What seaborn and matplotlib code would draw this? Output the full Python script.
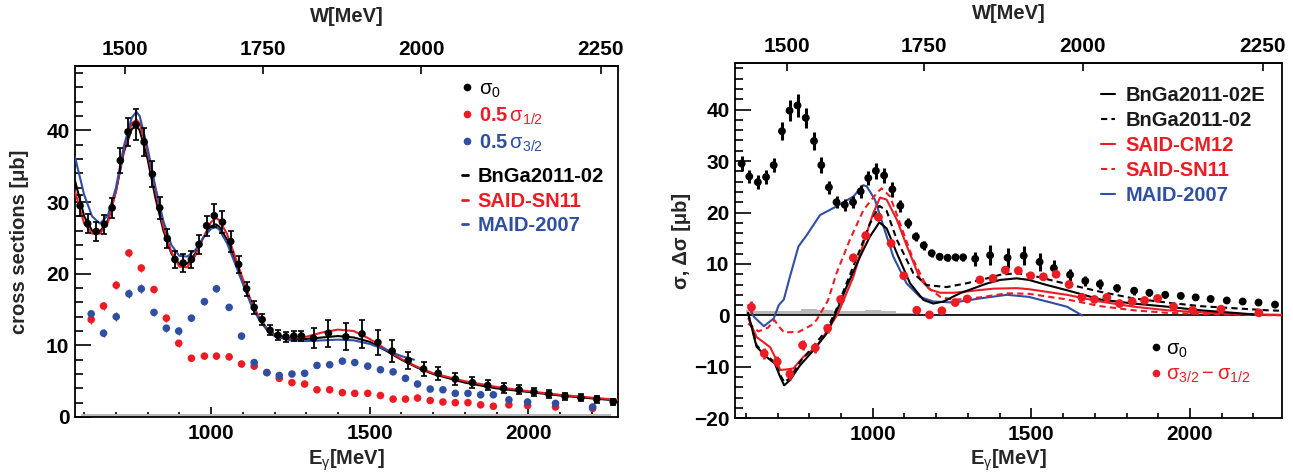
import numpy as np
import matplotlib
matplotlib.use("Agg")
import matplotlib.pyplot as plt
from matplotlib.lines import Line2D
from matplotlib.ticker import MultipleLocator, NullLocator, FixedLocator
import seaborn as sns

# ---------------- data ----------------
# sigma_0 (both panels)
E_sig0 = [587, 611, 638, 664, 688, 714, 738, 763, 789, 815, 838, 862, 886, 912, 938, 962, 986,
          1010, 1036, 1062, 1087, 1112, 1136, 1161, 1186, 1211, 1236, 1261, 1285, 1323, 1370,
          1425, 1476, 1526, 1571, 1622, 1670, 1716, 1770, 1824, 1872, 1922, 1971, 2018, 2065,
          2116, 2166, 2216, 2268]
sig0 = [29.5, 27.0, 25.9, 26.9, 29.2, 35.8, 39.8, 40.8, 38.4, 33.9, 29.2, 24.9, 22.0, 21.5, 22.0,
        24.1, 26.7, 28.1, 27.2, 24.5, 21.3, 17.9, 15.3, 13.6, 12.1, 11.4, 11.2, 11.3, 11.3, 11.0,
        11.7, 11.2, 11.6, 10.4, 9.2, 7.9, 6.7, 6.1, 5.3, 4.8, 4.4, 4.0, 3.8, 3.5, 3.2, 2.9, 2.7,
        2.5, 2.1]
sig0_err = [1.5, 1.3, 1.3, 1.3, 1.4, 1.7, 2.0, 2.2, 2.0, 1.8, 1.5, 1.3, 1.2, 1.2, 1.2, 1.3, 1.4,
            1.6, 1.5, 1.4, 1.2, 1.0, 0.9, 0.8, 0.7, 0.7, 0.7, 0.7, 0.7, 1.4, 1.9, 1.9, 1.9, 1.8,
            1.5, 1.2, 1.0, 0.9, 0.8, 0.8, 0.7, 0.7, 0.6, 0.6, 0.5, 0.5, 0.5, 0.5, 0.4]

# helicity-dependent cross sections
E_hel = [622, 661, 701, 741, 780, 820, 859, 898, 938, 979, 1017, 1057, 1096, 1136, 1176, 1215,
         1255, 1295, 1334, 1374, 1414, 1453, 1494, 1534, 1574, 1613, 1651, 1691, 1731, 1770,
         1810, 1850, 1890, 1939, 1998, 2086, 2203]
half_sig12 = [13.6, 15.5, 18.4, 22.9, 20.8, 17.8, 13.8, 10.3, 8.2, 8.5, 8.5, 8.4, 7.4, 7.1, 6.2,
              5.4, 4.8, 4.6, 3.8, 3.8, 3.4, 3.3, 3.3, 3.0, 2.5, 2.5, 2.65, 2.3, 2.1, 2.0, 2.0,
              1.7, 1.5, 1.7, 1.6, 1.4, 1.2]
half_sig32 = [14.4, 11.7, 14.0, 17.2, 17.9, 14.6, 12.4, 12.0, 13.8, 16.1, 17.9, 15.3, 11.3, 7.6,
              6.2, 5.8, 6.0, 6.1, 7.2, 7.3, 7.8, 7.6, 7.1, 6.6, 6.3, 5.4, 4.6, 3.9, 3.8, 3.3, 3.3,
              3.1, 3.1, 2.4, 2.1, 1.9, 1.4]
hel_err = [0.6, 0.6, 0.6, 0.6, 0.6, 0.5, 0.5, 0.5, 0.4, 0.4, 0.4, 0.4, 0.4, 0.3, 0.3, 0.3, 0.3,
           0.3, 0.3, 0.3, 0.3, 0.3, 0.3, 0.3, 0.3, 0.3, 0.3, 0.3, 0.3, 0.3, 0.3, 0.3, 0.3, 0.3,
           0.3, 0.3, 0.3]
E_delta = [618, 658, 699, 739, 779, 819, 858, 899, 939, 978, 1018, 1058, 1098, 1139, 1179, 1218,
           1260, 1298, 1338, 1379, 1418, 1459, 1498, 1538, 1578, 1619, 1659, 1699, 1738, 1778,
           1818, 1857, 1898, 1948, 2008, 2098, 2217]
delta_sig = [1.6, -7.4, -9.0, -11.4, -5.8, -6.3, -2.5, 3.1, 11.2, 15.5, 19.1, 14.0, 7.7, 1.0, 0.1,
             0.9, 2.5, 3.2, 6.9, 7.2, 8.8, 8.7, 7.7, 7.5, 8.0, 6.0, 3.5, 3.1, 3.5, 2.3, 2.7, 2.9,
             3.3, 1.7, 1.0, 1.2, 0.5]
delta_err = [1.2, 1.1, 1.1, 1.1, 1.0, 1.0, 0.9, 0.8, 0.8, 0.7, 0.7, 0.6, 0.5, 0.5, 0.4, 0.4, 0.4,
             0.4, 0.4, 0.4, 0.4, 0.4, 0.4, 0.4, 0.4, 0.4, 0.3, 0.3, 0.3, 0.3, 0.3, 0.3, 0.3, 0.3,
             0.3, 0.3, 0.3]

# left-panel model curves (sigma_0)
E_modL = [571, 600, 625, 650, 675, 700, 725, 750, 765, 775, 800, 825, 850, 875, 900, 925, 950,
          975, 1000, 1015, 1025, 1050, 1075, 1100, 1125, 1150, 1175, 1200, 1250, 1300, 1350,
          1400, 1450, 1500, 1550, 1600, 1650, 1700, 1800, 1900, 2000, 2100, 2200, 2283]
bnga_L = [33.0, 28.0, 26.0, 25.9, 27.5, 31.5, 37.0, 40.2, 40.6, 40.0, 36.0, 30.5, 26.0, 22.8,
          21.3, 21.4, 22.8, 25.0, 26.6, 26.9, 26.6, 24.8, 22.0, 19.0, 16.2, 14.0, 12.4, 11.5,
          10.9, 10.9, 11.1, 11.3, 11.1, 10.5, 9.3, 8.0, 6.9, 6.0, 4.8, 4.0, 3.5, 3.0, 2.6, 2.3]
said_L = [31.5, 27.0, 25.6, 25.6, 27.2, 31.5, 37.3, 41.0, 41.5, 41.0, 37.0, 31.5, 26.5, 23.0,
          21.0, 20.9, 22.5, 25.0, 27.2, 27.8, 27.5, 25.6, 22.5, 19.3, 16.3, 14.0, 12.3, 11.4,
          11.0, 11.2, 11.8, 12.2, 12.0, 10.9, 9.5, 8.1, 7.0, 6.1, 5.0, 4.2, 3.6, 3.1, 2.7, 2.4]
E_maidL = [571, 600, 625, 650, 675, 700, 725, 750, 765, 775, 800, 825, 850, 875, 900, 925, 950,
           975, 1000, 1015, 1025, 1050, 1075, 1100, 1125, 1150, 1175, 1200, 1250, 1300, 1350,
           1400, 1450, 1500, 1550, 1600, 1640]
maid_L = [36.3, 31.0, 28.0, 27.0, 28.2, 32.0, 37.8, 41.8, 42.6, 42.0, 37.5, 32.0, 27.3, 24.0,
          22.5, 22.4, 23.3, 25.0, 26.3, 26.5, 26.2, 24.3, 21.5, 18.6, 15.8, 13.7, 12.2, 11.3,
          10.7, 10.6, 10.7, 10.8, 10.7, 10.2, 9.4, 8.5, 8.0]

# right-panel model curves (sigma_3/2 - sigma_1/2)
E_bngaE = [607, 634, 666, 692, 708, 721, 739, 771, 813, 855, 881, 918, 960, 991, 1021, 1044,
           1076, 1118, 1160, 1191, 1223, 1275, 1360, 1402, 1454, 1492, 1549, 1612, 1717, 1822,
           1927, 2032, 2137, 2200]
bngaE_R = [0.5, -6.1, -8.1, -9.4, -11.9, -13.6, -12.6, -9.7, -6.8, -3.5, 0.0, 5.6, 11.4, 15.3,
           18.1, 16.9, 12.1, 6.2, 3.0, 2.3, 2.7, 4.3, 6.2, 6.9, 7.2, 6.9, 5.9, 4.9, 3.1, 2.3,
           1.7, 1.0, 0.5, 0.2]
E_bnga = [607, 634, 666, 692, 708, 721, 739, 771, 813, 855, 881, 918, 960, 991, 1021, 1044,
          1076, 1128, 1170, 1233, 1300, 1360, 1402, 1454, 1492, 1612, 1717, 1822, 1927, 2032,
          2137, 2242, 2290]
bnga_R = [0.5, -5.8, -7.8, -9.2, -11.5, -13.0, -12.2, -9.0, -6.0, -2.8, 0.5, 6.3, 12.8, 17.8,
          21.3, 20.3, 14.7, 8.2, 5.9, 5.5, 6.3, 7.2, 7.9, 8.2, 7.9, 6.1, 4.6, 3.3, 2.5, 1.8,
          1.4, 1.0, 0.9]
E_cm12 = [608, 634, 677, 697, 708, 729, 750, 781, 823, 865, 891, 939, 981, 1002, 1023, 1044,
          1076, 1108, 1150, 1181, 1213, 1255, 1318, 1381, 1454, 1492, 1612, 1717, 1822, 1927,
          2032, 2137, 2290]
cm12_R = [-0.6, -4.2, -6.2, -8.7, -10.6, -10.5, -10.3, -8.1, -6.1, -2.2, 0.4, 7.5, 16.0, 19.9,
          22.9, 22.5, 18.6, 13.4, 7.0, 5.0, 4.4, 4.4, 4.8, 5.2, 5.3, 5.1, 4.0, 2.7, 1.7, 1.0,
          0.6, 0.3, 0.1]
E_sn11 = [607, 640, 670, 690, 705, 720, 767, 807, 823, 859, 886, 928, 971, 1013, 1028, 1055,
          1086, 1128, 1170, 1213, 1255, 1338, 1423, 1492, 1612, 1717, 1822, 1927, 2032, 2290]
sn11_R = [-1.6, -3.1, -2.4, -0.9, -2.2, -3.3, -3.2, -1.9, -0.9, 2.9, 8.2, 14.7, 20.5, 23.8,
          24.7, 23.1, 17.9, 10.8, 5.6, 3.6, 3.0, 3.5, 4.3, 4.2, 3.1, 1.8, 1.0, 0.5, 0.3, 0.0]
E_maidR = [608, 626, 657, 688, 704, 720, 739, 766, 792, 834, 886, 939, 970, 981, 1007, 1034,
           1065, 1107, 1149, 1191, 1255, 1338, 1423, 1492, 1549, 1612, 1660]
maid_R = [2.0, -0.3, -2.1, -0.6, 2.0, 3.1, 7.5, 13.4, 15.6, 19.5, 21.2, 23.1, 25.3, 25.1, 22.5,
          17.3, 11.4, 6.2, 3.6, 2.7, 2.5, 3.3, 4.0, 3.6, 2.7, 1.7, 0.0]

# systematic-error bands (grey)
E_sysL = [590, 650, 700, 750, 800, 850, 900, 950, 1000, 1050, 1100, 1150, 1200, 1300, 1400,
          1500, 1600, 1700, 1800, 1900, 2000, 2100, 2200, 2260]
sysL = [0.45, 0.45, 0.45, 0.4, 0.45, 0.4, 0.35, 0.45, 0.4, 0.45, 0.4, 0.35, 0.35, 0.35, 0.35,
        0.4, 0.45, 0.45, 0.45, 0.45, 0.35, 0.45, 0.45, 0.45]
E_sysR = [600, 650, 700, 750, 800, 850, 900, 950, 1000, 1050, 1100, 1200, 1300, 1400, 1500,
          1600, 1700, 1800, 1900, 2000, 2100, 2200, 2280]
sysR = [1.0, 0.9, 0.8, 0.9, 1.2, 1.0, 0.8, 0.9, 1.0, 0.8, 0.45, 0.35, 0.35, 0.35, 0.35, 0.35,
        0.35, 0.35, 0.35, 0.35, 0.35, 0.35, 0.35]

W_ticks = [1500, 1750, 2000, 2250]
E_ticks = [1000, 1500, 2000]
yticks_L = [0, 10, 20, 30, 40]
yticks_R = [-20, -10, 0, 10, 20, 30, 40]

# ---------------- style ----------------
sns.set_theme(style="ticks")
plt.rcParams['font.family'] = ['Liberation Sans', 'DejaVu Sans']
plt.rcParams['font.weight'] = 'bold'
plt.rcParams['mathtext.fontset'] = 'custom'
plt.rcParams['mathtext.rm'] = 'Liberation Sans:weight=normal'
plt.rcParams['mathtext.it'] = 'Liberation Sans:weight=normal'
plt.rcParams['mathtext.bf'] = 'Liberation Sans:bold'
plt.rcParams['axes.linewidth'] = 1.3

RED = '#ed1c24'
BLUE = '#2f4fa2'
GREY = '#b9b9b9'
MP = 938.272
FS_TICK = 15
FS_LAB = 14.5
FS_LEG = 14.5


def e2w(E):
    E = np.asarray(E, dtype=float)
    return np.sqrt(MP**2 + 2 * MP * np.clip(E, 1.0, None))


def w2e(W):
    W = np.asarray(W, dtype=float)
    return (W**2 - MP**2) / (2 * MP)


fig = plt.figure(figsize=(12.93, 4.74), dpi=100)
axL = fig.add_axes([75/1293, (474-417)/474, (618-75)/1293, (417-66)/474])
axR = fig.add_axes([735/1293, (474-418.3)/474, (1282-735)/1293, (418.3-63.3)/474])


def style_axes(ax, xlim, ylim, yticks, ylabel, lab_x, xlab_y):
    ax.set_xlim(*xlim)
    ax.set_ylim(*ylim)
    ax.xaxis.set_major_locator(FixedLocator(E_ticks))
    ax.xaxis.set_minor_locator(MultipleLocator(100))
    ax.yaxis.set_major_locator(FixedLocator(yticks))
    ax.yaxis.set_minor_locator(MultipleLocator(2))
    ax.tick_params(axis='both', which='both', direction='in', top=False, right=False,
                   colors='black', labelsize=FS_TICK, width=1.2)
    ax.tick_params(axis='y', which='major', length=11.5, pad=4)
    ax.tick_params(axis='y', which='minor', length=5.8)
    ax.tick_params(axis='x', which='major', length=7, pad=5)
    ax.tick_params(axis='x', which='minor', length=3.6)
    for sp in ax.spines.values():
        sp.set_visible(True)
        sp.set_color('black')
        sp.set_linewidth(1.3)
    ax.set_ylabel(ylabel, fontsize=FS_LAB, fontweight='bold')
    ax.yaxis.set_label_coords(lab_x, 0.5)
    ax.set_xlabel(r'E$_{\gamma}$[MeV]', fontsize=FS_LAB, fontweight='bold')
    ax.xaxis.set_label_coords(0.5, xlab_y)
    sec = ax.secondary_xaxis('top', functions=(e2w, w2e))
    sec.xaxis.set_major_locator(FixedLocator(W_ticks))
    sec.xaxis.set_minor_locator(NullLocator())
    sec.tick_params(axis='x', direction='in', length=5.8, width=1.2, labelsize=FS_TICK,
                    pad=5, colors='black')
    sec.set_xlabel('W[MeV]', fontsize=FS_LAB, fontweight='bold', labelpad=13)
    for lab in ax.get_xticklabels() + ax.get_yticklabels() + sec.get_xticklabels():
        lab.set_fontweight('bold')
    return sec


# ---------------- left panel ----------------
ax = axL
ax.fill_between(E_sysL, 0, sysL, step='mid', color=GREY, lw=0, zorder=1)
sns.lineplot(x=E_modL, y=bnga_L, ax=ax, color='black', lw=1.5, zorder=3)
sns.lineplot(x=E_modL, y=said_L, ax=ax, color=RED, lw=1.5, zorder=3)
sns.lineplot(x=E_maidL, y=maid_L, ax=ax, color=BLUE, lw=1.5, zorder=3)
ax.errorbar(E_hel, half_sig12, yerr=hel_err, fmt='none', ecolor=RED, elinewidth=1.0, zorder=4)
ax.errorbar(E_hel, half_sig32, yerr=hel_err, fmt='none', ecolor=BLUE, elinewidth=1.0, zorder=4)
sns.scatterplot(x=E_hel, y=half_sig12, ax=ax, color=RED, s=30, edgecolor='none', zorder=5,
                legend=False)
sns.scatterplot(x=E_hel, y=half_sig32, ax=ax, color=BLUE, s=30, edgecolor='none', zorder=5,
                legend=False)
ax.errorbar(E_sig0, sig0, yerr=sig0_err, fmt='none', ecolor='black', elinewidth=1.3,
            capsize=2, capthick=1.2, zorder=6)
sns.scatterplot(x=E_sig0, y=sig0, ax=ax, color='black', s=30, edgecolor='none', zorder=7,
                legend=False)
style_axes(ax, (571, 2283), (0, 49), yticks_L, 'cross sections [μb]', -0.085, -0.086)

h1 = [Line2D([], [], ls='none', marker='o', ms=4.5, color=c) for c in ('black', RED, BLUE)]
l1 = [r'$\sigma_0$', r'0.5$\,\sigma_{1/2}$', r'0.5$\,\sigma_{3/2}$']
leg1 = ax.legend(h1, l1, loc='upper left', bbox_to_anchor=(0.713, 0.962), frameon=False,
                 borderpad=0, borderaxespad=0, handlelength=0.5, handletextpad=0.35,
                 labelspacing=0.28, prop={'size': FS_LEG, 'weight': 'bold'})
for t, c in zip(leg1.get_texts(), ('black', RED, BLUE)):
    t.set_color(c)
ax.add_artist(leg1)
h2 = [Line2D([], [], ls='-', lw=2.0, color=c) for c in ('black', RED, BLUE)]
l2 = ['BnGa2011-02', 'SAID-SN11', 'MAID-2007']
leg2 = ax.legend(h2, l2, loc='upper left', bbox_to_anchor=(0.713, 0.712), frameon=False,
                 borderpad=0, borderaxespad=0, handlelength=0.3, handletextpad=0.45,
                 labelspacing=0.28, prop={'size': FS_LEG, 'weight': 'bold'})
for t, c in zip(leg2.get_texts(), ('black', RED, BLUE)):
    t.set_color(c)

# ---------------- right panel ----------------
ax = axR
ax.fill_between(E_sysR, 0, sysR, step='mid', color=GREY, lw=0, zorder=1)
ax.axhline(0, color='black', lw=1.2, zorder=2)
sns.lineplot(x=E_maidR, y=maid_R, ax=ax, color=BLUE, lw=1.5, zorder=3)
sns.lineplot(x=E_sn11, y=sn11_R, ax=ax, color=RED, lw=1.5, linestyle=(0, (3, 2)), zorder=3)
sns.lineplot(x=E_cm12, y=cm12_R, ax=ax, color=RED, lw=1.5, zorder=3)
sns.lineplot(x=E_bnga, y=bnga_R, ax=ax, color='black', lw=1.5, linestyle=(0, (3, 2)), zorder=3)
sns.lineplot(x=E_bngaE, y=bngaE_R, ax=ax, color='black', lw=1.5, zorder=3)
ax.errorbar(E_sig0, sig0, yerr=sig0_err, fmt='none', ecolor='black', elinewidth=2.2, zorder=6)
sns.scatterplot(x=E_sig0, y=sig0, ax=ax, color='black', s=32, edgecolor='none', zorder=7,
                legend=False)
ax.errorbar(E_delta, delta_sig, yerr=delta_err, fmt='none', ecolor=RED, elinewidth=2.0, zorder=6)
sns.scatterplot(x=E_delta, y=delta_sig, ax=ax, color=RED, s=40, edgecolor='none', zorder=7,
                legend=False)
style_axes(ax, (566, 2290), (-20, 49), yticks_R, 'σ, Δσ [μb]', -0.080, -0.083)

h3 = [Line2D([], [], ls='-', lw=1.5, color='black'),
      Line2D([], [], ls=(0, (3, 2)), lw=1.5, color='black'),
      Line2D([], [], ls='-', lw=1.5, color=RED),
      Line2D([], [], ls=(0, (3, 2)), lw=1.5, color=RED),
      Line2D([], [], ls='-', lw=1.5, color=BLUE)]
l3 = ['BnGa2011-02E', 'BnGa2011-02', 'SAID-CM12', 'SAID-SN11', 'MAID-2007']
c3 = ['#1a1a1a', '#1a1a1a', RED, RED, BLUE]
leg3 = ax.legend(h3, l3, loc='upper left', bbox_to_anchor=(0.670, 0.936), frameon=False,
                 borderpad=0, borderaxespad=0, handlelength=0.66, handletextpad=0.55,
                 labelspacing=0.3, prop={'size': FS_LEG, 'weight': 'bold'})
for t, c in zip(leg3.get_texts(), c3):
    t.set_color(c)
ax.add_artist(leg3)
h4 = [Line2D([], [], ls='none', marker='o', ms=4.5, color=c) for c in ('black', RED)]
l4 = [r'$\sigma_0$', r'$\sigma_{3/2}-\sigma_{1/2}$']
leg4 = ax.legend(h4, l4, loc='upper left', bbox_to_anchor=(0.760, 0.222), frameon=False,
                 borderpad=0, borderaxespad=0, handlelength=0.5, handletextpad=0.27,
                 labelspacing=0.25, prop={'size': FS_LEG, 'weight': 'bold'})
for t, c in zip(leg4.get_texts(), ('black', RED)):
    t.set_color(c)

fig.savefig('out.png', dpi=100, facecolor='white')
